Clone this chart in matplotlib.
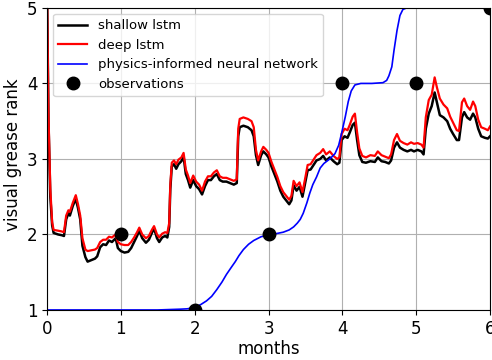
import matplotlib
matplotlib.use("Agg")
import matplotlib.pyplot as plt

# time axis (months) and model outputs
t_lstm = [0, 0.02, 0.045, 0.07, 0.09, 0.15, 0.2, 0.23, 0.26, 0.29, 0.31, 0.35, 0.39, 0.42,
          0.45, 0.48, 0.52, 0.55, 0.6, 0.65, 0.68, 0.72, 0.76, 0.8, 0.84, 0.88, 0.93, 0.96,
          1.0, 1.05, 1.1, 1.14, 1.18, 1.22, 1.25, 1.29, 1.34, 1.38, 1.42, 1.45, 1.49, 1.52,
          1.56, 1.6, 1.63, 1.655, 1.67, 1.69, 1.72, 1.75, 1.78, 1.82, 1.85, 1.88, 1.91, 1.94,
          1.98, 2.02, 2.06, 2.1, 2.14, 2.18, 2.22, 2.26, 2.3, 2.34, 2.38, 2.43, 2.48, 2.53,
          2.57, 2.59, 2.61, 2.66, 2.72, 2.77, 2.8, 2.83, 2.86, 2.9, 2.93, 2.97, 3.0, 3.04,
          3.08, 3.12, 3.16, 3.2, 3.24, 3.28, 3.31, 3.34, 3.38, 3.42, 3.46, 3.5, 3.53, 3.57,
          3.61, 3.65, 3.7, 3.74, 3.78, 3.83, 3.88, 3.93, 3.96, 3.99, 4.03, 4.07, 4.1, 4.14,
          4.17, 4.2, 4.23, 4.27, 4.32, 4.38, 4.44, 4.48, 4.53, 4.58, 4.63, 4.66, 4.7, 4.74,
          4.78, 4.83, 4.88, 4.93, 4.97, 5.02, 5.07, 5.1, 5.13, 5.17, 5.21, 5.25, 5.28, 5.32,
          5.37, 5.42, 5.46, 5.5, 5.55, 5.58, 5.62, 5.65, 5.69, 5.73, 5.77, 5.8, 5.84, 5.88,
          5.93, 5.97, 6.0]

shallow_lstm = [5.3, 3.5, 2.5, 2.12, 2.02, 2.0, 1.99, 1.98, 2.2, 2.28, 2.25, 2.38, 2.47, 2.35,
                2.2, 1.85, 1.7, 1.64, 1.66, 1.68, 1.71, 1.83, 1.87, 1.86, 1.92, 1.9, 1.95, 1.82,
                1.78, 1.76, 1.77, 1.82, 1.9, 1.98, 2.05, 1.95, 1.89, 1.93, 2.02, 2.08, 1.95, 1.9,
                1.96, 1.98, 1.96, 2.1, 2.6, 2.9, 2.93, 2.87, 2.93, 2.97, 3.03, 2.8, 2.72, 2.62,
                2.72, 2.64, 2.6, 2.53, 2.64, 2.72, 2.72, 2.77, 2.8, 2.72, 2.7, 2.7, 2.68, 2.66,
                2.68, 3.3, 3.42, 3.44, 3.42, 3.38, 3.3, 3.05, 2.92, 3.05, 3.1, 3.06, 3.02, 2.9,
                2.8, 2.7, 2.58, 2.5, 2.45, 2.4, 2.45, 2.65, 2.58, 2.63, 2.5, 2.7, 2.85, 2.86,
                2.92, 2.98, 3.0, 3.04, 2.98, 3.02, 2.97, 2.93, 2.95, 3.25, 3.3, 3.28, 3.35, 3.45,
                3.48, 3.25, 3.05, 2.96, 2.95, 2.97, 2.96, 3.02, 2.97, 2.96, 2.94, 2.98, 3.15, 3.22,
                3.15, 3.12, 3.1, 3.12, 3.1, 3.12, 3.1, 3.06, 3.4, 3.6, 3.7, 3.88, 3.75, 3.58,
                3.55, 3.5, 3.4, 3.33, 3.25, 3.25, 3.55, 3.62, 3.55, 3.52, 3.6, 3.55, 3.4, 3.3,
                3.28, 3.27, 3.3]

deep_lstm = [5.3, 3.6, 2.6, 2.16, 2.06, 2.05, 2.04, 2.03, 2.25, 2.32, 2.3, 2.42, 2.52, 2.4,
             2.25, 1.95, 1.8, 1.78, 1.79, 1.8, 1.82, 1.9, 1.93, 1.93, 1.97, 1.96, 2.0, 1.9,
             1.87, 1.86, 1.86, 1.9, 1.96, 2.03, 2.09, 2.0, 1.95, 1.98, 2.06, 2.11, 2.0, 1.96,
             2.01, 2.03, 2.02, 2.15, 2.65, 2.95, 2.98, 2.93, 2.99, 3.02, 3.08, 2.86, 2.78, 2.68,
             2.78, 2.7, 2.66, 2.58, 2.7, 2.77, 2.77, 2.82, 2.85, 2.77, 2.75, 2.75, 2.73, 2.71,
             2.73, 3.4, 3.53, 3.55, 3.53, 3.5, 3.42, 3.12, 2.98, 3.1, 3.16, 3.12, 3.08, 2.96,
             2.86, 2.76, 2.64, 2.56, 2.51, 2.46, 2.51, 2.71, 2.64, 2.69, 2.56, 2.76, 2.92, 2.93,
             2.99, 3.05, 3.08, 3.13, 3.06, 3.1, 3.04, 3.0, 3.02, 3.33, 3.4, 3.38, 3.45, 3.56,
             3.6, 3.35, 3.14, 3.04, 3.02, 3.05, 3.04, 3.1, 3.05, 3.03, 3.01, 3.06, 3.25, 3.33,
             3.24, 3.21, 3.19, 3.22, 3.2, 3.21, 3.19, 3.15, 3.55, 3.78, 3.85, 4.08, 3.95, 3.8,
             3.72, 3.67, 3.56, 3.48, 3.38, 3.37, 3.75, 3.8, 3.7, 3.65, 3.76, 3.7, 3.52, 3.42,
             3.4, 3.38, 3.43]

t_pinn = [0, 1.5, 1.8, 1.9, 2.0, 2.08, 2.16, 2.23, 2.3, 2.37, 2.43, 2.5, 2.55, 2.6, 2.66,
          2.73, 2.8, 2.9, 3.0, 3.1, 3.2, 3.28, 3.34, 3.39, 3.43, 3.47, 3.52, 3.56, 3.6, 3.65,
          3.7, 3.75, 3.83, 3.9, 3.95, 3.99, 4.04, 4.08, 4.12, 4.17, 4.25, 4.4, 4.55, 4.6,
          4.63, 4.67, 4.7, 4.74, 4.78, 4.82, 4.87, 6.0]
pinn = [1.0, 1.0, 1.01, 1.015, 1.035, 1.07, 1.12, 1.18, 1.27, 1.37, 1.47, 1.57, 1.64, 1.72,
        1.8, 1.87, 1.92, 1.97, 1.99, 2.01, 2.03, 2.06, 2.1, 2.15, 2.2, 2.28, 2.42, 2.55, 2.66,
        2.76, 2.88, 2.94, 3.0, 3.07, 3.18, 3.34, 3.56, 3.76, 3.9, 3.98, 4.0, 4.0, 4.01, 4.04,
        4.1, 4.22, 4.44, 4.7, 4.9, 4.98, 5.0, 5.0]

obs_months = [1, 2, 3, 4, 5, 6]
obs_rank = [2, 1, 2, 4, 4, 5]

fig = plt.figure(figsize=(4.92, 3.6), dpi=100)
ax = fig.add_axes([0.0955, 0.139, 0.9005, 0.839])

ax.plot(t_lstm, shallow_lstm, color="black", lw=1.8, label="shallow lstm")
ax.plot(t_lstm, deep_lstm, color="red", lw=1.6, label="deep lstm")
ax.plot(t_pinn, pinn, color="blue", lw=1.2, label="physics-informed neural network")
ax.plot(obs_months, obs_rank, "o", color="black", ms=9, zorder=5, clip_on=True,
        label="observations")

ax.set_xlim(0, 6)
ax.set_ylim(1, 5)
ax.set_xticks(range(0, 7))
ax.set_yticks(range(1, 6))
ax.tick_params(labelsize=12)
ax.grid(True, color="#b0b0b0", lw=0.8)
ax.set_axisbelow(True)
ax.set_xlabel("months", fontsize=12, labelpad=2)
ax.set_ylabel("visual grease rank", fontsize=12)
ax.yaxis.set_label_coords(-0.0564, 0.513)
ax.legend(loc="upper left", fontsize=9.5, borderaxespad=0.45, handlelength=2.2)

fig.savefig("out.png", dpi=100)
